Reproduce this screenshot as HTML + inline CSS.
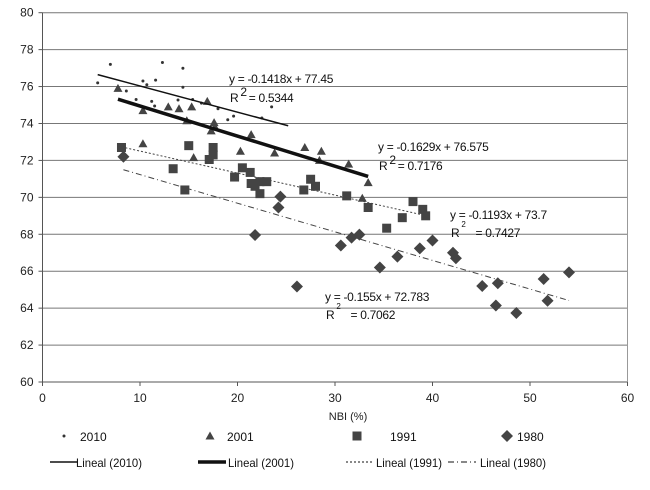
<!DOCTYPE html>
<html><head><meta charset="utf-8"><style>
html,body{margin:0;padding:0;background:#fff;}
svg{display:block;font-family:"Liberation Sans",sans-serif;}
</style></head><body>
<svg id="chart" width="650" height="490" viewBox="0 0 650 490"></svg>
<script>
const xTicks=[0,10,20,30,40,50,60];
const yTicks=[60,62,64,66,68,70,72,74,76,78,80];
const x2010=[5.66,6.96,8.6,9.6,10.3,10.7,11.2,11.5,11.6,12.3,13.9,14.4,14.4,15.4,16.3,18.0,19.0,19.6,23.5,22.5];
const y2010=[76.2,77.2,75.76,75.3,76.3,76.1,75.2,74.95,76.35,77.3,75.27,76.99,75.96,75.3,75.1,74.8,74.2,74.4,74.9,74.3];
const x2001=[7.74,10.3,10.3,12.9,14.0,15.3,14.8,15.5,16.9,17.6,17.3,17.7,20.3,21.4,23.8,26.9,28.6,28.4,31.4,32.8,33.4];
const y2001=[75.9,74.7,72.9,74.9,74.8,74.9,74.15,72.15,75.2,74.05,73.6,73.8,72.5,73.4,72.4,72.7,72.5,72.0,71.8,69.95,70.8];
const x1991=[8.1,13.4,14.6,15.0,17.1,17.5,17.5,19.7,20.5,21.3,21.4,21.8,22.3,22.3,23.0,26.8,27.5,28.0,31.2,33.4,35.3,36.9,38.0,39.0,39.3];
const y1991=[72.7,71.55,70.4,72.8,72.05,72.7,72.3,71.1,71.6,71.35,70.75,70.6,70.85,70.2,70.85,70.4,70.98,70.6,70.08,69.45,68.33,68.9,69.77,69.35,69.0];
const x1980=[8.3,21.8,24.4,24.2,26.1,30.6,31.7,32.5,34.6,36.4,38.7,40.0,42.1,42.4,45.1,46.7,46.5,48.6,51.4,51.8,54.0];
const y1980=[72.2,67.96,70.04,69.45,65.17,67.39,67.82,67.98,66.2,66.79,67.24,67.66,67.0,66.7,65.2,65.35,64.14,63.74,65.58,64.4,65.94];
const trendSlope=[-0.1418,-0.1629,-0.1193,-0.155];
const trendIntercept=[77.45,76.575,73.7,72.783];
const trendFrom=[5.66,7.74,8.1,8.3];
const trendTo=[25.2,33.4,39.3,54.0];
const ns="http://www.w3.org/2000/svg";
const svg=document.getElementById('chart');
const X=v=>42.5+(v-0)*585/60;
const Y=v=>382-(v-60)*369.3/20;
function mk(tag,at,parent){const e=document.createElementNS(ns,tag);for(const k in at)e.setAttribute(k,at[k]);(parent||svg).appendChild(e);return e;}
yTicks.forEach(t=>{
 const l=mk('line',{x1:X(0),x2:X(60),y1:Y(t),y2:Y(t),stroke:t==60?'#555':'#777','stroke-width':1});
 
 
 const tk=mk('line',{x1:X(0)-4,x2:X(0),y1:Y(t),y2:Y(t),stroke:'#555'});
 
 
 const tx=mk('text',{x:X(0)-9,y:Y(t)+4,'text-anchor':'end','font-size':12,fill:'#222'});
 tx.textContent=t;
 
 
});
const ya=mk('line',{x1:X(0),x2:X(0),y1:Y(80),y2:Y(60),stroke:'#555'});


const rb=mk('line',{x1:X(60),x2:X(60),y1:Y(80),y2:Y(60),stroke:'#999'});


xTicks.forEach(t=>{
 const tk=mk('line',{x1:X(t),x2:X(t),y1:Y(60),y2:Y(60)+4,stroke:'#555'});
 
 
 const tx=mk('text',{x:X(t),y:402,'text-anchor':'middle','font-size':12,fill:'#222'});
 tx.textContent=t;
 
 
});
const xt=mk('text',{x:348,y:420,'text-anchor':'middle','font-size':11,fill:'#222'});
xt.textContent='NBI (%)';


function marker(kind,cx,cy,g){
 if(kind==0)return mk('circle',{cx,cy,r:1.5,fill:'#333'},g);
 if(kind==1)return mk('polygon',{points:`${cx},${cy-4.5} ${cx+4.5},${cy+3.5} ${cx-4.5},${cy+3.5}`,fill:'#444'},g);
 if(kind==2)return mk('rect',{x:cx-4.5,y:cy-4.5,width:9,height:9,fill:'#444'},g);
 return mk('polygon',{points:`${cx},${cy-6} ${cx+6},${cy} ${cx},${cy+6} ${cx-6},${cy}`,fill:'#444'},g);
}
const series=[[x2010,y2010,'2010'],[x2001,y2001,'2001'],[x1991,y1991,'1991'],[x1980,y1980,'1980']];
series.forEach((s,k)=>{
 const g=mk('g',{});
 
 
 s[0].forEach((xv,i)=>{
  const m=marker(k,X(xv),Y(s[1][i]),g);
  
  
 });
});
const styles=[{w:1.5,d:''},{w:3.5,d:''},{w:1,d:'2,2'},{w:1,d:'6,3,1,3'}];
trendSlope.forEach((m,k)=>{
 const a=trendFrom[k],b=trendTo[k];
 const l=mk('line',{x1:X(a),y1:Y(m*a+trendIntercept[k]),x2:X(b),y2:Y(m*b+trendIntercept[k]),stroke:k<2?'#111':'#444','stroke-width':styles[k].w,'stroke-dasharray':styles[k].d});
 
 
});
const eqs=[[229,83,'y = -0.1418x + 77.45',230,102,'R','2','= 0.5344',-6],
[378,151,'y = -0.1629x + 76.575',379,170,'R','2','= 0.7176',-6],
[450,219,'y = -0.1193x + 73.7',451,237,'R','2','= 0.7427',-10],
[325,301,'y = -0.155x + 72.783',326,319,'R','2','= 0.7062',-10]];
eqs.forEach((e,k)=>{
 const t=mk('text',{x:e[0],y:e[1],'font-size':12,fill:'#111','letter-spacing':'-0.3'});
 t.textContent=e[2];
 
 
 const r=mk('text',{x:e[3],y:e[4],'font-size':12,fill:'#111','letter-spacing':'-0.3'});
 r.textContent=e[5];
 const sup=mk('tspan',{dy:e[8],'font-size':k<2?12:8,dx:2},r);sup.textContent=e[6];
 const rest=mk('tspan',{dy:-e[8],dx:k<2?2:10},r);rest.textContent=e[7];
 
 
});
const lg=mk('g',{});


const mx=[64,210,357,507],tx1=[80,227,390,517];
const lx=[50,198,346,448],tx2=[76,228,376,480];
series.forEach((s,k)=>{
 const m=marker(k,mx[k],436,lg);
 
 
 const t=mk('text',{x:tx1[k],y:441,'font-size':12,fill:'#111'},lg);
 t.textContent=s[2];
 
 
 const l=mk('line',{x1:lx[k],x2:lx[k]+28,y1:462,y2:462,stroke:'#111','stroke-width':styles[k].w,'stroke-dasharray':styles[k].d},lg);
 
 
 const t2=mk('text',{x:tx2[k],y:467,'font-size':12,fill:'#111',textLength:66,lengthAdjust:'spacingAndGlyphs'},lg);
 t2.textContent='Lineal ('+s[2]+')';
 
 
});
</script>
</body></html>
